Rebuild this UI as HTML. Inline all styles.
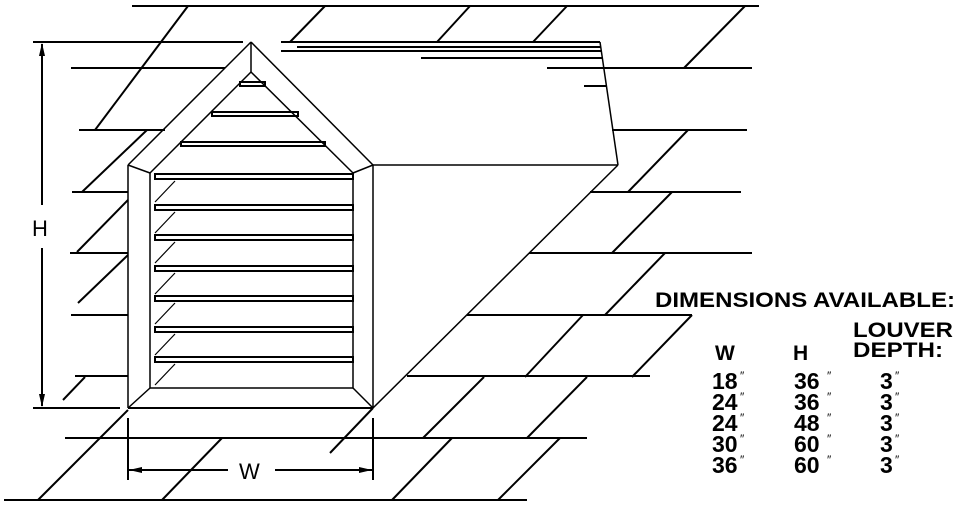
<!DOCTYPE html>
<html><head><meta charset="utf-8"><style>html,body{margin:0;padding:0;background:#fff}svg{display:block}</style></head>
<body>
<svg width="966" height="512" viewBox="0 0 966 512" xmlns="http://www.w3.org/2000/svg">
<g stroke="#000" stroke-width="2" fill="none">
<line x1="132" y1="6" x2="759" y2="6"/>
<line x1="33" y1="42" x2="243" y2="42"/>
<line x1="71" y1="68" x2="225" y2="68"/>
<line x1="79" y1="130" x2="165" y2="130"/>
<line x1="72" y1="192" x2="128" y2="192"/>
<line x1="70" y1="253" x2="128" y2="253"/>
<line x1="71" y1="315" x2="128" y2="315"/>
<line x1="75" y1="376" x2="128" y2="376"/>
<line x1="33" y1="408" x2="120" y2="408"/>
<line x1="128" y1="408" x2="373" y2="408"/>
<line x1="65" y1="438" x2="587" y2="438"/>
<line x1="4" y1="500" x2="527" y2="500"/>
<line x1="547" y1="68" x2="752" y2="68"/>
<line x1="612" y1="130" x2="747" y2="130"/>
<line x1="590" y1="192" x2="741" y2="192"/>
<line x1="529" y1="253" x2="752" y2="253"/>
<line x1="467" y1="315" x2="692" y2="315"/>
<line x1="407" y1="376" x2="650" y2="376"/>
<line x1="281" y1="42" x2="600" y2="42"/>
<line x1="297" y1="47" x2="601" y2="47"/>
<line x1="281" y1="51" x2="602" y2="51"/>
<line x1="421" y1="58" x2="603" y2="58"/>
<line x1="584" y1="86" x2="606" y2="86"/>
<line x1="188" y1="6" x2="95" y2="130"/>
<line x1="325" y1="6" x2="290" y2="42"/>
<line x1="470" y1="6" x2="437" y2="42"/>
<line x1="567" y1="6" x2="533" y2="42"/>
<line x1="745" y1="6" x2="684" y2="68"/>
<line x1="147" y1="130" x2="82" y2="192"/>
<line x1="128" y1="200" x2="77" y2="252"/>
<line x1="128" y1="255" x2="78" y2="303"/>
<line x1="85" y1="377" x2="63" y2="400"/>
<line x1="128" y1="410" x2="38" y2="500"/>
<line x1="222" y1="438" x2="162" y2="500"/>
<line x1="373" y1="408" x2="330" y2="453"/>
<line x1="452" y1="438" x2="392" y2="500"/>
<line x1="560" y1="438" x2="498" y2="500"/>
<line x1="484" y1="377" x2="423" y2="438"/>
<line x1="587" y1="377" x2="527" y2="438"/>
<line x1="583" y1="315" x2="525" y2="377"/>
<line x1="692" y1="315" x2="632" y2="377"/>
<line x1="665" y1="253" x2="605" y2="315"/>
<line x1="672" y1="192" x2="612" y2="253"/>
<line x1="688" y1="130" x2="628" y2="192"/>
<line x1="600" y1="42" x2="618" y2="165" stroke-width="1.5"/>
<line x1="373" y1="165" x2="618" y2="165" stroke-width="1.5"/>
<line x1="618" y1="165" x2="373" y2="408" stroke-width="1.5"/>
<g stroke-width="1.5">
<line x1="251" y1="42" x2="128" y2="165"/>
<line x1="251" y1="42" x2="373" y2="165"/>
<line x1="251" y1="42" x2="251" y2="72"/>
<line x1="251" y1="72" x2="150" y2="173"/>
<line x1="251" y1="72" x2="353" y2="173"/>
<line x1="128" y1="165" x2="150" y2="173"/>
<line x1="373" y1="165" x2="353" y2="173"/>
<line x1="128" y1="165" x2="128" y2="408"/>
<line x1="373" y1="165" x2="373" y2="408"/>
<line x1="150" y1="173" x2="150" y2="388"/>
<line x1="353" y1="173" x2="353" y2="388"/>
<line x1="150" y1="388" x2="353" y2="388"/>
<line x1="128" y1="408" x2="150" y2="388"/>
<line x1="373" y1="408" x2="353" y2="388"/>
</g>
<rect x="240" y="82" width="25" height="4"/>
<rect x="212" y="112" width="86" height="4"/>
<rect x="181" y="142" width="144" height="4"/>
<g>
<rect x="155" y="174" width="198" height="5"/>
<rect x="155" y="205" width="198" height="5"/>
<rect x="155" y="235" width="198" height="5"/>
<rect x="155" y="266" width="198" height="5"/>
<rect x="155" y="296" width="198" height="5"/>
<rect x="155" y="327" width="198" height="5"/>
<rect x="155" y="357" width="198" height="5"/>
</g>
<g stroke-width="1.2">
<line x1="175" y1="181" x2="155" y2="202"/>
<line x1="175" y1="212" x2="155" y2="233"/>
<line x1="175" y1="242" x2="155" y2="263"/>
<line x1="175" y1="273" x2="155" y2="294"/>
<line x1="175" y1="303" x2="155" y2="324"/>
<line x1="175" y1="334" x2="155" y2="355"/>
<line x1="175" y1="364" x2="155" y2="385"/>
</g>
<line x1="42" y1="44" x2="42" y2="205"/>
<line x1="42" y1="248" x2="42" y2="406"/>
<line x1="128" y1="418" x2="128" y2="480"/>
<line x1="373" y1="418" x2="373" y2="480"/>
<line x1="128" y1="470" x2="228" y2="470"/>
<line x1="275" y1="470" x2="373" y2="470"/>
</g>
<g fill="#000">
<polygon points="42,43 39,56 45,56"/>
<polygon points="42,407 39,394 45,394"/>
<polygon points="129,470 142,467 142,473"/>
<polygon points="372,470 359,467 359,473"/>
</g>
<g font-family="Liberation Sans, Arial, sans-serif" font-weight="bold" fill="#000">
<text x="32" y="236" font-size="22" font-weight="normal">H</text>
<text x="239" y="479" font-size="22" font-weight="normal">W</text>
<text x="655" y="307" font-size="21" textLength="300" lengthAdjust="spacingAndGlyphs">DIMENSIONS AVAILABLE:</text>
<text x="853" y="337" font-size="21" textLength="100" lengthAdjust="spacingAndGlyphs">LOUVER</text>
<text x="853" y="357" font-size="21" textLength="90" lengthAdjust="spacingAndGlyphs">DEPTH:</text>
<text x="715" y="360" font-size="21">W</text>
<text x="793" y="360" font-size="21">H</text>
<g font-size="23">
<text x="712" y="389">18</text><text x="712" y="410">24</text><text x="712" y="431">24</text><text x="712" y="452">30</text><text x="712" y="473">36</text>
<text x="794" y="389">36</text><text x="794" y="410">36</text><text x="794" y="431">48</text><text x="794" y="452">60</text><text x="794" y="473">60</text>
<text x="880" y="389">3</text><text x="880" y="410">3</text><text x="880" y="431">3</text><text x="880" y="452">3</text><text x="880" y="473">3</text>
</g>
<g font-size="12" font-weight="normal">
<text x="740" y="380">″</text><text x="740" y="401">″</text><text x="740" y="422">″</text><text x="740" y="443">″</text><text x="740" y="464">″</text>
<text x="827" y="380">″</text><text x="827" y="401">″</text><text x="827" y="422">″</text><text x="827" y="443">″</text><text x="827" y="464">″</text>
<text x="895" y="380">″</text><text x="895" y="401">″</text><text x="895" y="422">″</text><text x="895" y="443">″</text><text x="895" y="464">″</text>
</g>
</g>
</svg>
</body></html>
